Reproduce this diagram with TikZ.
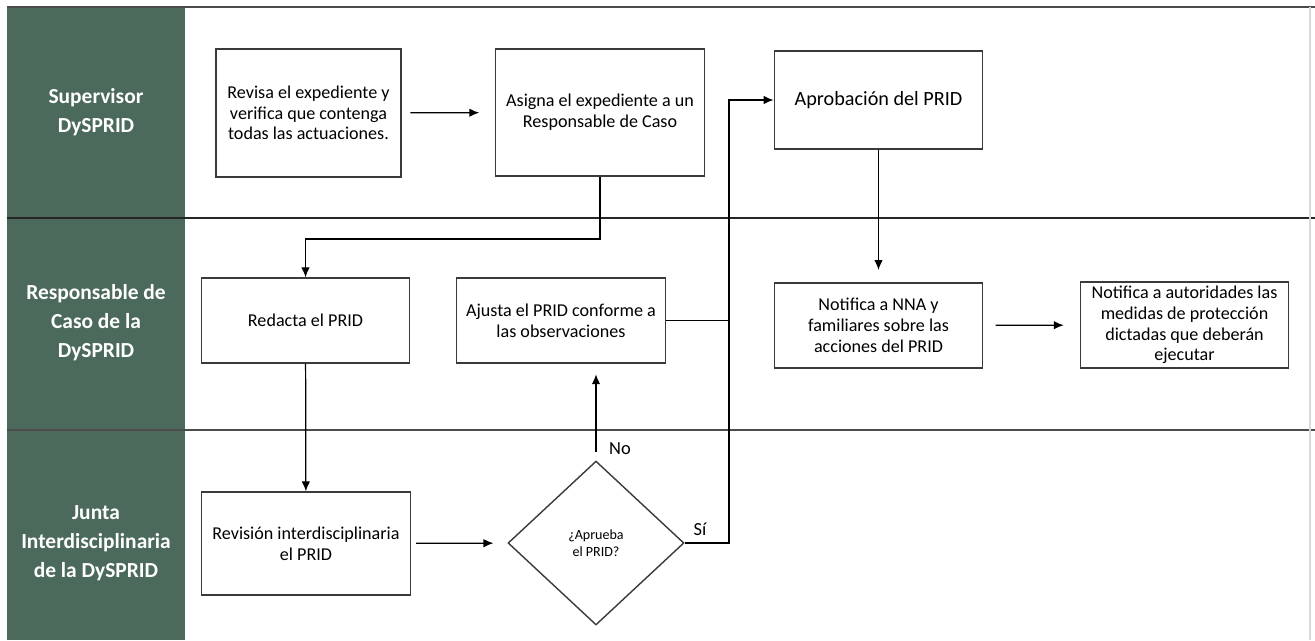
\documentclass[tikz,border=0pt]{standalone}
\usepackage{fontspec}
\setmainfont{Carlito}
\usetikzlibrary{arrows.meta,shapes.geometric}
\definecolor{carril}{HTML}{4B6A5C}
\definecolor{borde}{HTML}{3A3A3A}
\begin{document}
\begin{tikzpicture}[x=0.02cm,y=-0.02cm,
    caja/.style={draw=borde,line width=0.8pt,align=center,inner sep=1pt,minimum width=4.17cm,font=\fontsize{10.3}{11.8}\selectfont},
    decision/.style={draw=borde,line width=0.8pt,diamond,align=center,inner sep=0pt,minimum width=3.52cm,minimum height=3.28cm,font=\fontsize{8}{10}\selectfont},
    flecha/.style={draw=black,line width=0.7pt,-{Latex[length=2mm,width=1.7mm]}},
    linea/.style={draw=black,line width=0.7pt},
    actor/.style={text=white,align=center,font=\bfseries\fontsize{12.2}{16.5}\selectfont},
    etiq/.style={font=\fontsize{10.5}{12}\selectfont}]
    \useasboundingbox (0,0) rectangle (1315,640);
    % carriles
    \fill[carril] (7,7) rectangle (185,640);
    \draw[black!70,line width=0.9pt] (7,7) -- (1315,7);
    \draw[black!85,line width=0.9pt] (7,218) -- (1315,218);
    \draw[black!70,line width=0.8pt] (7,430) -- (1315,430);
    \draw[black!15,line width=0.6pt] (1310,7) -- (1310,640);
    \node[actor] (sup) at (96,112) {Supervisor\\DySPRID};
    \node[actor] (resp) at (96,323) {Responsable de\\Caso de la\\DySPRID};
    \node[actor] (junta) at (96,543) {Junta\\Interdisciplinaria\\de la DySPRID};
    % pasos
    \node[caja,minimum width=3.7cm,minimum height=2.56cm] (revisa) at (308.5,113) {Revisa el expediente y\\verifica que contenga\\todas las actuaciones.};
    \node[caja,minimum height=2.54cm] (asigna) at (600,112.5) {Asigna el expediente a un\\Responsable de Caso};
    \node[caja,minimum height=1.96cm,font=\fontsize{11.5}{14}\selectfont] (aprueba) at (878.5,100) {Aprobación del PRID};
    \node[caja,minimum height=1.7cm] (redacta) at (305.5,320.5) {Redacta el PRID};
    \node[caja,minimum height=1.7cm] (ajusta) at (561,320.5) {Ajusta el PRID conforme a\\las observaciones};
    \node[caja,minimum height=1.7cm] (notnna) at (878.5,325.5) {Notifica a NNA y\\familiares sobre las\\acciones del PRID};
    \node[caja,minimum height=1.72cm] (notaut) at (1184.5,325) {Notifica a autoridades las\\medidas de protección\\dictadas que deberán\\ejecutar};
    \node[caja,minimum height=2.06cm] (revint) at (306,543.5) {Revisión interdisciplinaria\\el PRID};
    \node[decision] (decide) at (596,543) {¿Aprueba\\el PRID?};
    % conectores
    \coordinate (codo) at (0,239);
    \coordinate (sube) at (729,543);
    \draw[flecha,shorten <=5pt,shorten >=9pt] (revisa) -- (asigna);
    \draw[flecha] (asigna.south) -- (asigna.south |- codo) -| (redacta.north);
    \draw[flecha] (redacta) -- (revint);
    \draw[flecha,shorten <=3pt,shorten >=8pt] (revint) -- (decide);
    \draw[flecha,shorten <=5pt,shorten >=6pt] (decide.north) -- (decide.north |- ajusta.south);
    \node[etiq,anchor=west] (no) at (603,449) {No};
    \draw[flecha] (decide.east) -- (sube) |- (aprueba.west);
    \node[etiq] (si) at (700,529) {Sí};
    \draw[linea] (ajusta.east) -- (ajusta.east -| sube);
    \draw[flecha,shorten >=7pt] (aprueba) -- (notnna);
    \draw[flecha,shorten <=7pt,shorten >=9pt] (notnna) -- (notaut);
\end{tikzpicture}
\end{document}
